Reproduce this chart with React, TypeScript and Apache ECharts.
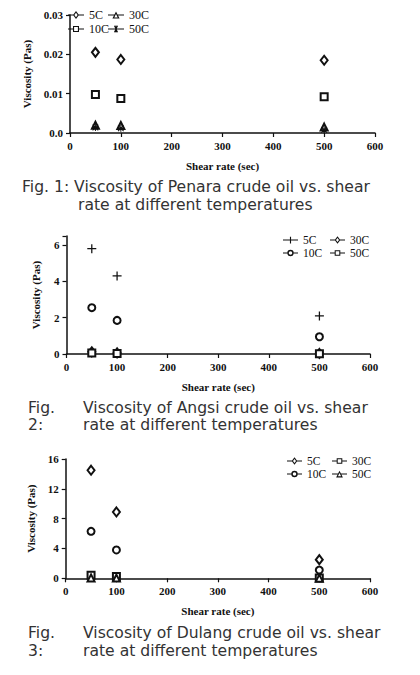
import React, { useRef, useEffect } from 'react';
import * as echarts from 'echarts';

// shared x values (shear rate, 1/sec)
const shearRates = [50, 100, 500];

// Fig. 1 - Penara (Pas)
const penara5C = [0.0205, 0.0187, 0.0185];
const penara10C = [0.0098, 0.0088, 0.0092];
const penara30C = [0.002, 0.0019, 0.0015];
const penara50C = [0.0014, 0.0012, 0.0008];

// Fig. 2 - Angsi (Pas)
const angsi5C = [5.8, 4.3, 2.1];
const angsi10C = [2.55, 1.85, 0.95];
const angsi30C = [0.12, 0.06, 0.03];
const angsi50C = [0.05, 0.03, 0.02];

// Fig. 3 - Dulang (Pas)
const dulang5C = [14.5, 8.9, 2.5];
const dulang10C = [6.3, 3.8, 1.1];
const dulang30C = [0.4, 0.25, 0.05];
const dulang50C = [0.05, 0.03, 0.02];

const SERIF = '"Liberation Serif", "Times New Roman", serif';
const SANS = '"DejaVu Sans", Verdana, sans-serif';
const INK = '#111';

// point markers
const PLUS = 'path://M4.3,0H5.7V4.3H10V5.7H5.7V10H4.3V5.7H0V4.3H4.3Z';
const STAR =
    'path://M4.3,0H5.7V4.3H10V5.7H5.7V10H4.3V5.7H0V4.3H4.3Z M1.5,0.5L9.5,8.5L8.5,9.5L0.5,1.5Z M8.5,0.5L9.5,1.5L1.5,9.5L0.5,8.5Z';

// legend icons: line + marker, drawn in a 160x80 box (holes by opposite winding)
const ANCHORS = ' M80,0L80.2,0L80.2,0.2Z M80,80L80.2,80L80.2,79.8Z';
const ICON_DIAMOND = 'path://M0,34H56V46H0Z M104,34H160V46H104Z M80,0L110,40L80,80L50,40Z M80,18L64,40L80,62L96,40Z';
const ICON_SQUARE = 'path://M0,34H52V46H0Z M108,34H160V46H108Z M50,10H110V70H50Z M61,21V59H99V21Z' + ANCHORS;
const ICON_CIRCLE =
    'path://M0,34H48V46H0Z M112,34H160V46H112Z M46,40A34,34 0 1,1 114,40A34,34 0 1,1 46,40Z M61,40A19,19 0 1,0 99,40A19,19 0 1,0 61,40Z' +
    ANCHORS;
const ICON_TRIANGLE = 'path://M0,34H66V46H0Z M94,34H160V46H94Z M80,4L116,76L44,76Z M80,30L63,64L97,64Z' + ANCHORS;
const ICON_PLUS = 'path://M0,34H160V46H0Z M74,4H86V76H74Z' + ANCHORS;
const ICON_STAR =
    'path://M0,34H160V46H0Z M74,4H86V76H74Z M60,10L68,4L100,70L92,76Z M92,4L100,10L68,76L60,70Z' + ANCHORS;

type SeriesDef = {
    name: string;
    values: number[];
    symbol: string;
    size: number | number[];
    border: number;
    icon: string;
};
type Caption = { text: string; x: number; y: number };

interface FigureCfg {
    grid: { left: number; right: number; top: number; height: number };
    yMax: number;
    yInterval: number;
    yFormat: (v: number) => string;
    yNameGap: number;
    legendCols: { left: number; names: string[] }[];
    legendTop: number;
    legendGap: number;
    legendItemWidth: number;
    legendFont: number;
    series: SeriesDef[];
    captions: Caption[];
}

const buildOption = (cfg: FigureCfg) => ({
    animation: false,
    backgroundColor: '#fff',
    textStyle: { fontFamily: SERIF },
    grid: cfg.grid,
    xAxis: {
        type: 'value',
        min: 0,
        max: 600,
        interval: 100,
        name: 'Shear rate (sec)',
        nameLocation: 'middle',
        nameGap: 27,
        nameTextStyle: { fontFamily: SERIF, fontWeight: 'bold', fontSize: 11, color: INK },
        axisLine: { show: true, onZero: false, lineStyle: { color: INK, width: 1.5 } },
        axisTick: { show: true, length: 4, lineStyle: { color: INK, width: 1.2 } },
        axisLabel: { color: INK, fontFamily: SERIF, fontSize: 11, fontWeight: 'bold', margin: 7 },
        splitLine: { show: false }
    },
    yAxis: {
        type: 'value',
        min: 0,
        max: cfg.yMax,
        interval: cfg.yInterval,
        name: 'Viscosity (Pas)',
        nameLocation: 'middle',
        nameGap: cfg.yNameGap,
        nameTextStyle: { fontFamily: SERIF, fontWeight: 'bold', fontSize: 11, color: INK },
        axisLine: { show: true, onZero: false, lineStyle: { color: INK, width: 1.5 } },
        axisTick: { show: true, length: 4, lineStyle: { color: INK, width: 1.2 } },
        axisLabel: { color: INK, fontFamily: SERIF, fontSize: 11, fontWeight: 'bold', margin: 7, formatter: cfg.yFormat },
        splitLine: { show: false }
    },
    legend: cfg.legendCols.map(col => ({
        orient: 'vertical',
        left: col.left,
        top: cfg.legendTop,
        padding: 0,
        data: col.names.map(n => ({ name: n, icon: cfg.series.find(s => s.name === n)!.icon })),
        itemWidth: cfg.legendItemWidth,
        itemHeight: cfg.legendItemWidth / 2,
        itemGap: cfg.legendGap,
        selectedMode: false,
        itemStyle: { borderWidth: 0 },
        textStyle: { fontFamily: SERIF, fontSize: cfg.legendFont, color: INK, lineHeight: 12 }
    })),
    series: cfg.series.map(s => ({
        type: 'line',
        name: s.name,
        data: shearRates.map((x, i) => [x, s.values[i]]),
        symbol: s.symbol,
        symbolSize: s.size,
        showSymbol: true,
        lineStyle: { opacity: 0 },
        itemStyle: { color: INK, borderColor: INK, borderWidth: s.border }
    })),
    graphic: cfg.captions.map(c => ({
        type: 'text',
        x: c.x,
        y: c.y,
        style: {
            text: c.text,
            fontFamily: SANS,
            fontSize: 15.6,
            lineHeight: 14,
            fill: '#333',
            verticalAlign: 'middle'
        }
    }))
});

const figure1: FigureCfg = {
    grid: { left: 70, right: 45, top: 15, height: 118 },
    yMax: 0.03,
    yInterval: 0.01,
    yFormat: (v: number) => (v === 0 ? '0.0' : v.toFixed(2)),
    yNameGap: 34,
    legendCols: [
        { left: 68, names: ['5C', '10C'] },
        { left: 108, names: ['30C', '50C'] }
    ],
    legendTop: 9,
    legendGap: 2,
    legendItemWidth: 16,
    legendFont: 12,
    series: [
        { name: '5C', values: penara5C, symbol: 'emptyDiamond', size: [7, 9], border: 1, icon: ICON_DIAMOND },
        { name: '10C', values: penara10C, symbol: 'emptyRect', size: 7, border: 1.2, icon: ICON_SQUARE },
        { name: '30C', values: penara30C, symbol: 'emptyTriangle', size: 7, border: 1.2, icon: ICON_TRIANGLE },
        { name: '50C', values: penara50C, symbol: STAR, size: 7, border: 0, icon: ICON_STAR }
    ],
    captions: [
        { text: 'Fig. 1: Viscosity of Penara crude oil vs. shear', x: 22, y: 187 },
        { text: 'rate at different temperatures', x: 78, y: 204.5 }
    ]
};

const figure2: FigureCfg = {
    grid: { left: 66.5, right: 50, top: 16, height: 118 },
    yMax: 6.5,
    yInterval: 2,
    yFormat: (v: number) => (v % 2 === 0 ? String(v) : ''),
    yNameGap: 25,
    legendCols: [
        { left: 283, names: ['5C', '10C'] },
        { left: 330, names: ['30C', '50C'] }
    ],
    legendTop: 14,
    legendGap: 1,
    legendItemWidth: 15,
    legendFont: 11.5,
    series: [
        { name: '5C', values: angsi5C, symbol: PLUS, size: 9, border: 0, icon: ICON_PLUS },
        { name: '10C', values: angsi10C, symbol: 'emptyCircle', size: 7, border: 2, icon: ICON_CIRCLE },
        { name: '30C', values: angsi30C, symbol: 'emptyDiamond', size: [7, 9], border: 1, icon: ICON_DIAMOND },
        { name: '50C', values: angsi50C, symbol: 'emptyRect', size: 7, border: 1.2, icon: ICON_SQUARE }
    ],
    captions: [
        { text: 'Fig.', x: 28, y: 188 },
        { text: 'Viscosity of Angsi crude oil vs. shear', x: 83, y: 188 },
        { text: '2:', x: 28, y: 205 },
        { text: 'rate at different temperatures', x: 83, y: 205 }
    ]
};

const figure3: FigureCfg = {
    grid: { left: 65.7, right: 50, top: 19, height: 119.3 },
    yMax: 16,
    yInterval: 4,
    yFormat: (v: number) => String(v),
    yNameGap: 25,
    legendCols: [
        { left: 287, names: ['5C', '10C'] },
        { left: 332, names: ['30C', '50C'] }
    ],
    legendTop: 15,
    legendGap: 1,
    legendItemWidth: 15,
    legendFont: 11.5,
    series: [
        { name: '5C', values: dulang5C, symbol: 'emptyDiamond', size: [7, 9], border: 1.2, icon: ICON_DIAMOND },
        { name: '10C', values: dulang10C, symbol: 'emptyCircle', size: 7, border: 2, icon: ICON_CIRCLE },
        { name: '30C', values: dulang30C, symbol: 'emptyRect', size: 7, border: 1.2, icon: ICON_SQUARE },
        { name: '50C', values: dulang50C, symbol: 'emptyTriangle', size: 7, border: 1.2, icon: ICON_TRIANGLE }
    ],
    captions: [
        { text: 'Fig.', x: 28, y: 193 },
        { text: 'Viscosity of Dulang crude oil vs. shear', x: 83, y: 193 },
        { text: '3:', x: 28, y: 211 },
        { text: 'rate at different temperatures', x: 83, y: 211 }
    ]
};

const FigureChart: React.FC<{ cfg: FigureCfg; top: number; height: number }> = ({ cfg, top, height }) => {
    const ref = useRef<HTMLDivElement>(null);

    useEffect(() => {
        if (!ref.current) return;
        const chart = echarts.init(ref.current, undefined, { renderer: 'svg' });
        chart.setOption(buildOption(cfg) as any);
        return () => chart.dispose();
    }, [cfg]);

    return <div ref={ref} style={{ position: 'absolute', left: 0, top, width: 420, height }} />;
};

const App: React.FC = () => (
    <div style={{ position: 'absolute', left: 0, top: 0, width: 420, height: 675, background: '#fff' }}>
        <FigureChart cfg={figure1} top={0} height={220} />
        <FigureChart cfg={figure2} top={220} height={220} />
        <FigureChart cfg={figure3} top={440} height={235} />
    </div>
);

export default App;
